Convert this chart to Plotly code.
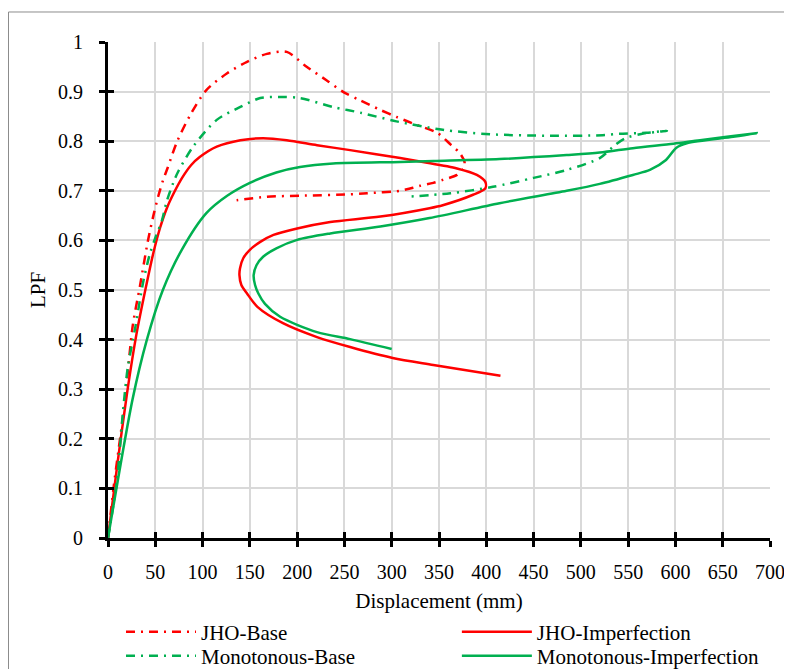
import plotly.graph_objects as go

# JHO-Base (red dash-dot)
jho_base_d = [0, 6, 18, 26, 34, 42, 48, 53, 58, 63, 73, 87, 104, 126, 147, 168, 189, 210, 231, 249, 266, 288, 305, 326, 348, 363, 372, 377, 376, 369, 354, 344, 330, 316, 309, 274, 256, 203, 168, 136]
jho_base_lpf = [0, 0.103, 0.278, 0.426, 0.51, 0.597, 0.65, 0.688, 0.72, 0.746, 0.799, 0.853, 0.903, 0.937, 0.960, 0.976, 0.980, 0.950, 0.923, 0.899, 0.883, 0.863, 0.849, 0.833, 0.817, 0.792, 0.776, 0.758, 0.745, 0.732, 0.722, 0.716, 0.710, 0.703, 0.700, 0.695, 0.693, 0.690, 0.688, 0.681]

# JHO-Imperfection (red solid)
jho_imp_d = [0, 10, 20, 30, 41, 48, 55, 62, 70, 79, 88, 97, 115, 140, 164, 189, 221, 256, 309, 333, 369, 390, 399, 399, 386, 354, 340, 288, 235, 200, 175, 161, 150, 143, 139.6, 139, 141, 147, 158, 185, 221, 256, 301, 344, 415]
jho_imp_lpf = [0, 0.15, 0.29, 0.41, 0.514, 0.575, 0.625, 0.664, 0.697, 0.728, 0.752, 0.768, 0.789, 0.802, 0.806, 0.802, 0.792, 0.782, 0.766, 0.758, 0.745, 0.732, 0.718, 0.705, 0.692, 0.671, 0.665, 0.648, 0.637, 0.624, 0.611, 0.597, 0.581, 0.564, 0.544, 0.530, 0.510, 0.493, 0.466, 0.433, 0.405, 0.385, 0.363, 0.349, 0.327]

# Monotonous-Base (green dash-dot)
mono_base_d = [0, 9.5, 16, 21, 29, 37, 44, 50, 57, 62, 69, 74, 90, 115, 140, 161, 182, 203, 238, 268, 305, 354, 404, 467, 523, 541, 569, 591, 565, 547, 536, 520, 485, 450, 407, 362, 316]
mono_base_lpf = [0, 0.117, 0.258, 0.345, 0.426, 0.514, 0.571, 0.605, 0.640, 0.678, 0.716, 0.738, 0.789, 0.843, 0.869, 0.887, 0.889, 0.887, 0.869, 0.857, 0.840, 0.823, 0.814, 0.811, 0.812, 0.815, 0.817, 0.821, 0.815, 0.806, 0.792, 0.766, 0.742, 0.726, 0.708, 0.695, 0.688]

# Monotonous-Imperfection (green solid)
mono_imp_d = [0, 26, 41, 58, 78, 104, 126, 150, 178, 203, 238, 309, 344, 414, 485, 520, 555, 598, 626, 686, 661, 612, 601, 590, 573, 555, 520, 485, 414, 340, 288, 235, 200, 178, 164, 157, 154, 155.5, 159, 166, 182, 221, 256, 300]
mono_imp_lpf = [0, 0.28, 0.399, 0.5, 0.581, 0.655, 0.690, 0.716, 0.737, 0.748, 0.755, 0.758, 0.760, 0.764, 0.772, 0.777, 0.786, 0.795, 0.802, 0.816, 0.809, 0.796, 0.787, 0.762, 0.742, 0.732, 0.714, 0.700, 0.675, 0.645, 0.628, 0.614, 0.601, 0.584, 0.567, 0.550, 0.530, 0.510, 0.493, 0.472, 0.446, 0.415, 0.401, 0.381]

x_ticks = list(range(0, 701, 50))
y_ticks = [0, 0.1, 0.2, 0.3, 0.4, 0.5, 0.6, 0.7, 0.8, 0.9, 1]
y_tick_text = ["0", "0.1", "0.2", "0.3", "0.4", "0.5", "0.6", "0.7", "0.8", "0.9", "1"]

RED = "#FF0000"
GREEN = "#00B050"
DASHDOT = "9px,6px,2px,6px"
FONT = "Liberation Serif"
FS = 20
FS_TEXT = 21

fig = go.Figure()
fig.add_trace(go.Scatter(x=jho_base_d, y=jho_base_lpf, name="JHO-Base", mode="lines", legend="legend",
                         line=dict(color=RED, width=2.5, dash=DASHDOT, shape="spline", smoothing=0.8)))
fig.add_trace(go.Scatter(x=jho_imp_d, y=jho_imp_lpf, name="JHO-Imperfection", mode="lines", legend="legend2",
                         line=dict(color=RED, width=2.5, shape="spline", smoothing=0.8)))
fig.add_trace(go.Scatter(x=mono_base_d, y=mono_base_lpf, name="Monotonous-Base", mode="lines", legend="legend3",
                         line=dict(color=GREEN, width=2.5, dash=DASHDOT, shape="spline", smoothing=0.8)))
fig.add_trace(go.Scatter(x=mono_imp_d, y=mono_imp_lpf, name="Monotonous-Imperfection", mode="lines", legend="legend4",
                         line=dict(color=GREEN, width=2.5, shape="spline", smoothing=0.8)))
# invisible helper trace on the overlay axes that draw the inner half of the cross ticks
fig.add_trace(go.Scatter(x=[0, 700], y=[0, 1], xaxis="x2", yaxis="y2", showlegend=False,
                         hoverinfo="skip", mode="markers", marker=dict(opacity=0, size=1)))

axis_common = dict(showline=True, linecolor="black", linewidth=3,
                   ticks="outside", ticklen=6, tickwidth=3, tickcolor="black",
                   showgrid=True, gridcolor="#D9D9D9", gridwidth=1.5, zeroline=False,
                   automargin=False,
                   tickfont=dict(family=FONT, size=FS, color="black"))

legend_common = dict(orientation="v", xanchor="left", yanchor="middle", itemwidth=70,
                     bgcolor="rgba(0,0,0,0)", borderwidth=0,
                     font=dict(family=FONT, size=FS_TEXT, color="black"))

fig.update_layout(
    width=792, height=669,
    margin=dict(l=100, r=30, t=34, b=139, autoexpand=False),
    paper_bgcolor="white", plot_bgcolor="white",
    font=dict(family=FONT, size=FS, color="black"),
    xaxis=dict(range=[0, 700], tickvals=x_ticks, ticklabelstandoff=8,
               title=dict(text="Displacement (mm)", font=dict(family=FONT, size=FS_TEXT), standoff=12),
               **axis_common),
    yaxis=dict(range=[0, 1], tickvals=y_ticks, ticktext=y_tick_text, ticklabelstandoff=12,
               title=dict(text="LPF", font=dict(family=FONT, size=FS_TEXT), standoff=7),
               **axis_common),
    xaxis2=dict(range=[0, 700], tickvals=x_ticks, overlaying="x", anchor="y2", side="bottom",
                ticks="inside", ticklen=6, tickwidth=3, tickcolor="black",
                showticklabels=False, showgrid=False, showline=False, zeroline=False),
    yaxis2=dict(range=[0, 1], tickvals=y_ticks, overlaying="y", anchor="x2", side="left",
                ticks="inside", ticklen=6, tickwidth=3, tickcolor="black",
                showticklabels=False, showgrid=False, showline=False, zeroline=False),
    legend=dict(x=0.0196, y=-0.1895, **legend_common),
    legend2=dict(x=0.527, y=-0.1895, **legend_common),
    legend3=dict(x=0.0196, y=-0.2379, **legend_common),
    legend4=dict(x=0.527, y=-0.2379, **legend_common),
    showlegend=True,
    shapes=[dict(type="rect", xref="paper", yref="paper", x0=-0.1503, x1=1.2, y0=-0.4, y1=1.0605,
                 line=dict(color="#8C8C8C", width=1), layer="below")],
)

fig.write_html("out.html")
